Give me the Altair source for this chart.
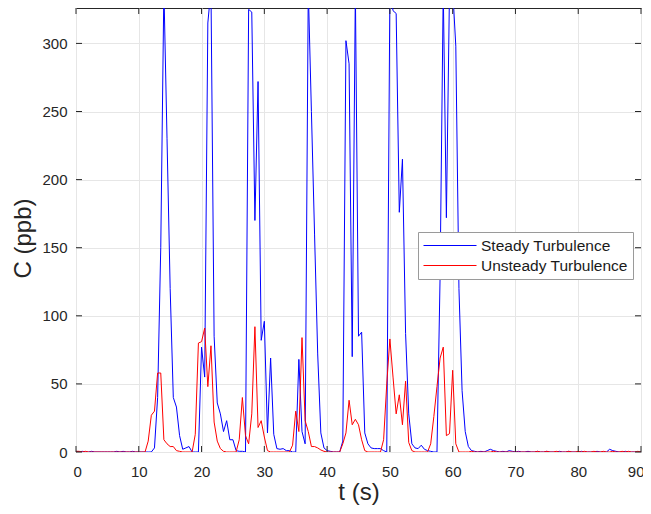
import altair as alt
import pandas as pd
import numpy as np

# sample times (s), 0.5 s step
t_s = np.round(np.arange(0, 90.01, 0.5), 1).tolist()

steady = [
    0.5, 0, 0.5, 0, 0, 0.5, 0, 0, 0, 0,
    0, 0, 0, 0.5, 0, 0.5, 0, 0, 0.5, 0,
    0, 0, 0, 0, 0, 3, 40, 150, 340, 230,
    120, 40, 33, 12, 2, 3, 4, 0, 0, 0,
    77, 55, 315, 340, 85, 36, 28, 15, 23, 9,
    9, 1, 0.5, 0.5, 0, 325, 323, 170, 272, 82,
    96, 14, 69, 13, 2.5, 2, 2.5, 1, 1, 0,
    0, 68, 15, 6, 340, 250, 160, 72, 14, 3,
    1, 0.5, 0, 0, 0, 8, 302, 285, 70, 340,
    85, 88, 14, 6, 3, 2.5, 2.5, 2.5, 1, 0,
    340, 324, 322, 176, 215, 87, 28, 6, 3, 2.5,
    5, 2, 1, 0.5, 0, 0, 130, 340, 172, 340,
    340, 298, 120, 45, 15, 4, 1, 0.5, 0, 0.5,
    0, 1, 2, 1, 0.5, 0, 0.5, 0, 1, 0.5,
    0, 0.5, 0, 0, 0.5, 0, 0, 0.5, 0, 0,
    0.5, 0, 0, 0, 0.5, 0, 0, 0.5, 0, 0,
    0, 0.5, 0, 0, 0, 0, 0.5, 0, 0, 0,
    2, 1, 0.5, 0, 0, 0.5, 0, 0, 0, 0,
    0,
]

unsteady = [
    0.5, 0.5, 0, 0.5, 0, 0, 0, 0, 0, 0,
    0, 0, 0, 0, 0, 0, 0, 0, 0, 0,
    0, 0, 0, 8, 27, 30, 58, 58, 9, 6,
    4, 4, 1, 0.5, 0, 0, 0, 0, 13, 80,
    81, 91, 48, 78, 22, 8, 2.5, 0.5, 0, 0,
    0, 0, 9, 40, 12, 6, 28, 92, 18, 23,
    11, 1, 0, 0, 0, 0, 0, 0, 0, 5,
    30, 15, 84, 23, 15, 4, 4, 3, 1.5, 0.5,
    0, 0, 0, 0, 0, 6, 14, 38, 20, 24,
    20, 9, 1, 0, 0, 0, 0, 0, 9, 50,
    83, 55, 28, 42, 20, 52, 7, 1, 0, 0,
    0, 0, 0, 6, 26, 48, 69, 77, 12, 13.5,
    60, 6, 0, 0, 0, 0, 0.5, 0, 0, 0,
    0, 0, 0, 0.5, 0, 0, 0, 0, 0, 0,
    0, 0, 0, 0, 0, 0, 0, 0.5, 0, 0,
    0.5, 0, 0, 0.5, 0, 0, 0, 0.5, 0, 0,
    0.5, 0, 0.5, 0, 0, 0.5, 0, 0, 0.5, 0,
    0, 0.5, 0, 0, 0.5, 0, 0.5, 0, 0, 0.5,
    0,
]

series_names = ["Steady Turbulence", "Unsteady Turbulence"]
series_colors = ["#0000ff", "#ff0000"]
x_ticks = [0, 10, 20, 30, 40, 50, 60, 70, 80, 90]
y_ticks = [0, 50, 100, 150, 200, 250, 300]

W, H = 565, 444
FONT = "Liberation Sans"
INK = "#262626"

df = pd.DataFrame({
    "t": t_s + t_s,
    "C": steady + unsteady,
    "series": [series_names[0]] * len(steady) + [series_names[1]] * len(unsteady),
})

xs = alt.Scale(domain=[0, 90], nice=False, zero=False)
ys = alt.Scale(domain=[0, 326], nice=False)

x_axis = alt.Axis(values=x_ticks, title="t (s)", labelPadding=12,
                  labelFlush=True, labelFlushOffset=3,
                  titleY=40, titleBaseline="middle")
y_axis = alt.Axis(values=y_ticks, title="C (ppb)", labelPadding=9,
                  titleX=-41, titleY=230, titleAngle=270, titleBaseline="bottom")

lines = alt.Chart(df).mark_line(strokeWidth=1, clip=True).encode(
    x=alt.X("t:Q", scale=xs, axis=x_axis),
    y=alt.Y("C:Q", scale=ys, axis=y_axis),
    color=alt.Color("series:N",
                    scale=alt.Scale(domain=series_names, range=series_colors),
                    legend=alt.Legend(
                        title=None, orient="none", legendX=342, legendY=224,
                        symbolType="stroke", symbolSize=2809, symbolStrokeWidth=1,
                        labelFont=FONT, labelFontSize=15.5, labelColor="#1a1a1a",
                        labelOffset=4, padding=5, rowPadding=3, clipHeight=17,
                        strokeColor="#9a9a9a", fillColor="#ffffff")),
    order=alt.Order("t:Q"),
)

xt = pd.DataFrame({"t": x_ticks})
yt = pd.DataFrame({"C": y_ticks})

tick_b = alt.Chart(xt).mark_rule(color=INK, strokeWidth=1).encode(
    x=alt.X("t:Q", scale=xs, axis=x_axis), y=alt.value(H), y2=alt.value(H - 6))
tick_t = alt.Chart(xt).mark_rule(color=INK, strokeWidth=1).encode(
    x=alt.X("t:Q", scale=xs, axis=x_axis), y=alt.value(0), y2=alt.value(6))
tick_l = alt.Chart(yt).mark_rule(color=INK, strokeWidth=1).encode(
    y=alt.Y("C:Q", scale=ys, axis=y_axis), x=alt.value(0), x2=alt.value(6))
tick_r = alt.Chart(yt).mark_rule(color=INK, strokeWidth=1).encode(
    y=alt.Y("C:Q", scale=ys, axis=y_axis), x=alt.value(W), x2=alt.value(W - 6))

chart = alt.layer(lines, tick_b, tick_t, tick_l, tick_r).properties(
    width=W, height=H,
    autosize=alt.AutoSizeParams(type="none"),
    padding={"left": 68, "top": 0, "right": 2, "bottom": 54},
    background="white",
).configure_view(
    stroke=INK, strokeWidth=1
).configure_axis(
    domain=False, ticks=False, tickSize=0,
    grid=True, gridColor="#e6e6e6", gridWidth=1,
    labelFont=FONT, labelFontSize=15, labelColor=INK,
    titleFont=FONT, titleFontSize=24, titleFontWeight="normal", titleColor=INK,
)

chart.save("out.html", embed_options={"renderer": "svg", "actions": False})
